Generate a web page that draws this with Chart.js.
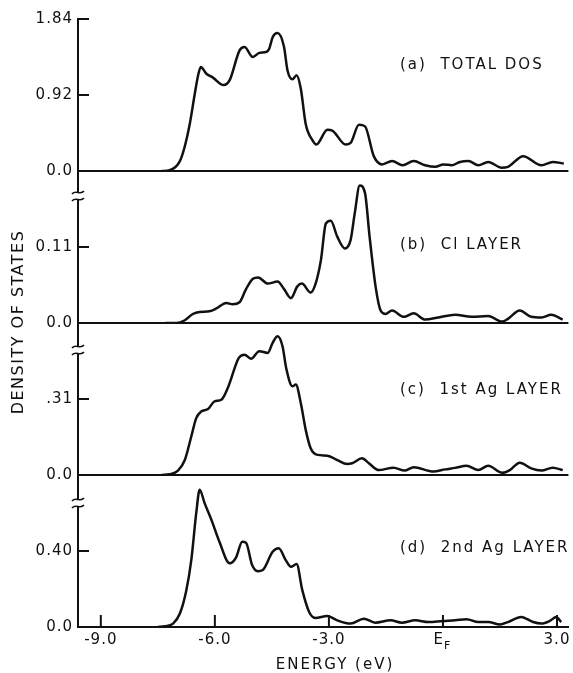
<!DOCTYPE html>
<html>
<head>
<meta charset="utf-8">
<script src="https://cdn.jsdelivr.net/npm/chart.js@4.4.1/dist/chart.umd.min.js"></script>
<style>
  body { margin: 0; background: #fff; }
  canvas { display: block; }
</style>
</head>
<body>
<canvas id="dos" width="573" height="673"></canvas>
<script>
// energy axis (eV)
const xTicks = [-9, -6, -3, 0, 3];
const xTickLabels = ['-9.0', '-6.0', '-3.0', '', '3.0'];

// (a) total DOS
const energyA = [-7.4, -7.19, -6.92, -6.79, -6.66, -6.53, -6.44, -6.37, -6.23, -6.05, -5.77, -5.61, -5.35, -5.22, -5.0, -4.83, -4.65, -4.57, -4.48, -4.35, -4.18, -4.09, -3.96, -3.85, -3.74, -3.61, -3.43, -3.33, -3.04, -2.91, -2.56, -2.43, -2.21, -2.05, -1.82, -1.60, -1.34, -1.06, -0.77, -0.47, -0.20, 0.01, 0.23, 0.45, 0.67, 0.93, 1.19, 1.54, 1.71, 2.11, 2.59, 2.89, 3.18];
const dosA = [0, 0.01, 0.12, 0.30, 0.57, 0.93, 1.16, 1.26, 1.18, 1.13, 1.04, 1.10, 1.46, 1.50, 1.38, 1.43, 1.44, 1.48, 1.62, 1.67, 1.50, 1.22, 1.11, 1.16, 1.0, 0.57, 0.37, 0.32, 0.50, 0.49, 0.32, 0.34, 0.56, 0.54, 0.18, 0.08, 0.12, 0.07, 0.12, 0.07, 0.05, 0.08, 0.07, 0.11, 0.12, 0.07, 0.11, 0.04, 0.05, 0.18, 0.07, 0.11, 0.09];

// (b) Cl layer
const energyB = [-7.3, -7.01, -6.79, -6.58, -6.40, -6.14, -5.96, -5.70, -5.53, -5.35, -5.18, -5.0, -4.86, -4.61, -4.35, -4.18, -4.0, -3.83, -3.71, -3.48, -3.35, -3.21, -3.08, -2.95, -2.78, -2.58, -2.43, -2.32, -2.19, -2.05, -1.93, -1.77, -1.64, -1.51, -1.34, -1.03, -0.77, -0.47, -0.12, 0.32, 0.75, 1.19, 1.56, 1.71, 2.02, 2.32, 2.59, 2.85, 3.15];
const dosB = [0, 0, 0.004, 0.013, 0.016, 0.017, 0.021, 0.029, 0.027, 0.030, 0.049, 0.064, 0.066, 0.057, 0.060, 0.049, 0.036, 0.053, 0.057, 0.044, 0.057, 0.091, 0.144, 0.148, 0.125, 0.108, 0.120, 0.159, 0.199, 0.188, 0.125, 0.052, 0.018, 0.013, 0.018, 0.009, 0.014, 0.005, 0.008, 0.012, 0.009, 0.010, 0.002, 0.006, 0.018, 0.009, 0.008, 0.012, 0.005];

// (c) 1st Ag layer
const energyC = [-7.4, -7.19, -6.97, -6.79, -6.62, -6.49, -6.36, -6.18, -6.01, -5.83, -5.66, -5.37, -5.22, -5.05, -4.83, -4.61, -4.48, -4.35, -4.22, -4.12, -3.96, -3.87, -3.74, -3.61, -3.48, -3.30, -3.04, -2.78, -2.52, -2.39, -2.13, -1.95, -1.69, -1.30, -1.01, -0.77, -0.25, 0.06, 0.32, 0.62, 0.93, 1.19, 1.56, 1.76, 2.02, 2.32, 2.59, 2.89, 3.15];
const dosC = [0, 0.003, 0.018, 0.061, 0.157, 0.232, 0.259, 0.269, 0.300, 0.307, 0.355, 0.478, 0.491, 0.474, 0.505, 0.498, 0.539, 0.566, 0.525, 0.433, 0.362, 0.369, 0.294, 0.184, 0.109, 0.082, 0.079, 0.061, 0.045, 0.048, 0.068, 0.048, 0.020, 0.030, 0.018, 0.032, 0.014, 0.023, 0.029, 0.038, 0.020, 0.038, 0.009, 0.020, 0.050, 0.027, 0.018, 0.030, 0.020];

// (d) 2nd Ag layer
const energyD = [-7.5, -7.32, -7.10, -6.92, -6.75, -6.62, -6.49, -6.40, -6.27, -6.09, -5.88, -5.61, -5.44, -5.28, -5.18, -5.02, -4.87, -4.74, -4.48, -4.32, -4.13, -4.0, -3.85, -3.70, -3.52, -3.36, -3.04, -2.78, -2.43, -2.08, -1.78, -1.38, -1.08, -0.73, -0.38, 0.0, 0.32, 0.62, 0.93, 1.19, 1.50, 1.71, 2.06, 2.37, 2.59, 2.81, 2.98, 3.11];
const dosD = [0, 0.004, 0.018, 0.071, 0.194, 0.352, 0.599, 0.722, 0.652, 0.564, 0.449, 0.335, 0.367, 0.449, 0.444, 0.326, 0.294, 0.300, 0.396, 0.414, 0.350, 0.317, 0.331, 0.194, 0.079, 0.048, 0.058, 0.035, 0.018, 0.044, 0.023, 0.035, 0.023, 0.035, 0.026, 0.032, 0.035, 0.041, 0.026, 0.026, 0.013, 0.026, 0.053, 0.026, 0.018, 0.032, 0.053, 0.026];

// y scales, top to bottom
const panelIds = ['yA', 'yB', 'yC', 'yD'];
const panelMax = [1.84, 0.22, 0.62, 0.80];
const panelTicks = [[0, 0.92, 1.84], [0, 0.11], [0, 0.31], [0, 0.40]];
const panelTickLabels = [['0.0', '0.92', '1.84'], ['0.0', '0.11'], ['0.0', '.31'], ['0.0', '0.40']];
const panelTitles = ['(a)  TOTAL DOS', '(b)  Cl LAYER', '(c)  1st Ag LAYER', '(d)  2nd Ag LAYER'];
const energies = [energyA, energyB, energyC, energyD];
const values = [dosA, dosB, dosC, dosD];

// layout bits (pixels)
const titleOffset = [46, 74, 67, 73];
const breakOffset = [0, 25, 27, 28];
const ink = '#111';
const FONT = '"DejaVu Sans", sans-serif';

const datasets = panelIds.map((id, i) => ({
  data: energies[i].map((e, k) => ({ x: e, y: values[i][k] })),
  yAxisID: id,
  borderColor: ink,
  borderWidth: 2.5,
  pointRadius: 0,
  cubicInterpolationMode: 'monotone',
  fill: false
}));

const scales = {
  x: {
    type: 'linear',
    min: -9.6,
    max: 3.3,
    afterBuildTicks: s => { s.ticks = xTicks.map(v => ({ value: v })); },
    afterFit: s => { s.height = 46; },
    ticks: {
      autoSkip: false, maxRotation: 0, padding: 4, color: ink,
      font: { family: FONT, size: 15 },
      callback: (v, i) => xTickLabels[i]
    },
    grid: { display: false, drawTicks: false },
    border: { display: true, color: ink, width: 2 }
  }
};
panelIds.forEach((id, i) => {
  scales[id] = {
    type: 'linear',
    position: 'left',
    stack: 'dos',
    stackWeight: 1,
    weight: 4 - i,
    min: 0,
    max: panelMax[i],
    afterBuildTicks: s => { s.ticks = panelTicks[i].map(v => ({ value: v })); },
    afterFit: s => { s.width = 78; },
    ticks: {
      autoSkip: false, padding: 5, color: ink,
      font: { family: FONT, size: 15 },
      callback: (v, k) => panelTickLabels[i][k]
    },
    grid: { display: false, drawTicks: false },
    border: { display: true, color: ink, width: 2 }
  };
});

function seg(ctx, x1, y1, x2, y2) {
  ctx.beginPath(); ctx.moveTo(x1, y1); ctx.lineTo(x2, y2); ctx.stroke();
}

const decor = {
  id: 'decor',
  beforeDraw(chart) {
    chart.ctx.letterSpacing = '1px';
  },
  afterDraw(chart) {
    const ctx = chart.ctx, area = chart.chartArea, xs = chart.scales.x;
    ctx.save();
    ctx.strokeStyle = ink;
    ctx.fillStyle = ink;
    ctx.lineWidth = 2;

    panelIds.forEach((id, i) => {
      const s = chart.scales[id];
      // zero line of each upper panel
      if (i < 3) {
        const y0 = s.getPixelForValue(0);
        seg(ctx, area.left, y0, area.right, y0);
      }
      // inward tick marks
      panelTicks[i].forEach(v => {
        if (v > 0) {
          const y = s.getPixelForValue(v);
          seg(ctx, area.left, y, area.left + 11, y);
        }
      });
      // axis break
      if (i > 0) {
        const x = area.left, y = s.top + breakOffset[i];
        ctx.save();
        ctx.fillStyle = '#fff';
        ctx.fillRect(x - 3, y - 3, 6, 6);
        ctx.lineWidth = 1.6;
        [-3.5, 3.5].forEach(d => {
          ctx.beginPath();
          ctx.moveTo(x - 6, y + d + 1.5);
          ctx.bezierCurveTo(x - 2, y + d - 3.5, x + 2, y + d + 3.5, x + 6, y + d - 1.5);
          ctx.stroke();
        });
        ctx.restore();
      }
      // panel caption
      ctx.font = '15px ' + FONT;
      ctx.letterSpacing = '2px';
      ctx.textAlign = 'left';
      ctx.textBaseline = 'middle';
      ctx.fillText(panelTitles[i], 400, s.top + titleOffset[i]);
    });

    // upward ticks on the energy axis
    xTicks.forEach(v => {
      const px = xs.getPixelForValue(v);
      seg(ctx, px, area.bottom, px, area.bottom - 12);
    });

    // E_F label
    const ef = xs.getPixelForValue(0);
    ctx.letterSpacing = '0px';
    ctx.textBaseline = 'middle';
    ctx.font = '15px ' + FONT;
    ctx.textAlign = 'right';
    ctx.fillText('E', ef, 640);
    ctx.font = '11px ' + FONT;
    ctx.textAlign = 'left';
    ctx.fillText('F', ef + 1, 646);

    // axis titles
    ctx.font = '15px ' + FONT;
    ctx.letterSpacing = '2px';
    ctx.textAlign = 'center';
    ctx.fillText('ENERGY (eV)', 335, 665);
    ctx.translate(19, 322);
    ctx.rotate(-Math.PI / 2);
    ctx.font = '16px ' + FONT;
    ctx.letterSpacing = '1.5px';
    ctx.fillText('DENSITY OF STATES', 0, 0);
    ctx.restore();
  }
};

new Chart(document.getElementById('dos'), {
  type: 'line',
  data: { datasets: datasets },
  options: {
    responsive: false,
    animation: false,
    layout: { padding: { top: 19, right: 3, left: 0, bottom: 0 } },
    plugins: { legend: { display: false }, tooltip: { enabled: false } },
    scales: scales
  },
  plugins: [decor]
});
</script>
</body>
</html>
